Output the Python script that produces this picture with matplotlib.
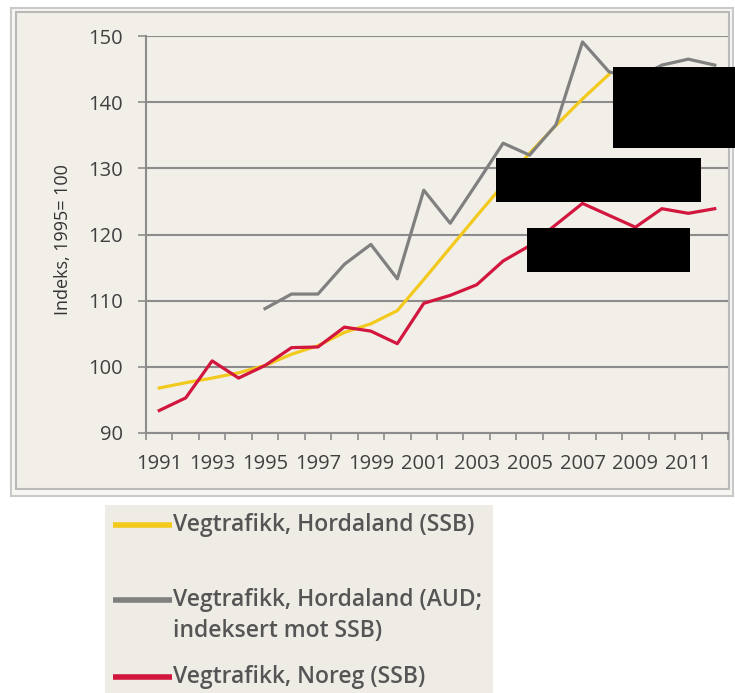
import matplotlib
matplotlib.use("Agg")
import matplotlib.pyplot as plt
from matplotlib.patches import Rectangle
from matplotlib.lines import Line2D
import numpy as np

# --- data ---
years = list(range(1991, 2013))
hordaland_ssb = [96.8, 97.6, 98.3, 99.1, 100.2, 101.9, 103.2, 105.2, 106.5, 108.5,
                 113.2, 118.0, 122.8, 127.5, 132.3, 136.5, 140.5, 144.2,
                 None, None, None, None]
hordaland_aud = [None, None, None, None, 108.8, 111.0, 111.0, 115.5, 118.5, 113.3,
                 126.7, 121.7, 127.7, 133.8, 132.0, 136.6, 149.1, 144.6,
                 143.5, 145.6, 146.5, 145.6]
noreg_ssb = [93.4, 95.3, 100.9, 98.3, 100.2, 102.9, 103.0, 106.0, 105.4, 103.5,
             109.6, 110.8, 112.4, 116.0, 118.3, 121.5, 124.7, 122.9,
             121.1, 123.9, 123.2, 123.9]

labels = ["Vegtrafikk, Hordaland (SSB)",
          "Vegtrafikk, Hordaland (AUD;\nindeksert mot SSB)",
          "Vegtrafikk, Noreg (SSB)"]
colors = ["#f2c91c", "#808080", "#d2163e"]
y_ticks = [90, 100, 110, 120, 130, 140, 150]
x_ticklabels = [str(y) for y in range(1991, 2012, 2)]

plt.rcParams['font.family'] = ['Open Sans', 'DejaVu Sans']

W, H = 735, 693
fig = plt.figure(figsize=(W / 100, H / 100), dpi=100)
fig.patch.set_facecolor("white")


def box(x0, y0, x1, y1):
    """pixel box (top-left origin) -> figure fraction rect args"""
    return (x0 / W, 1 - y1 / H), (x1 - x0) / W, (y1 - y0) / H


# chart frame (double border)
xy, w, h = box(11, 8, 733, 496)
fig.patches.append(Rectangle(xy, w, h, transform=fig.transFigure, zorder=-5,
                             facecolor="#f7f6f2", edgecolor="#c9c9c9", lw=1.5))
xy, w, h = box(16, 12, 729, 489)
fig.patches.append(Rectangle(xy, w, h, transform=fig.transFigure, zorder=-4,
                             facecolor="#f2efe9", edgecolor="#b9b9b9", lw=1.5))

# plot area
ax = fig.add_axes([146 / W, 1 - 433 / H, 582 / W, 397 / H])
ax.patch.set_alpha(0)

series = [hordaland_ssb, hordaland_aud, noreg_ssb]
for vals, c in zip(series, colors):
    v = np.array([np.nan if x is None else x for x in vals], dtype=float)
    ax.plot(years, v, color=c, lw=2.3, solid_joinstyle="round", zorder=3)

ax.set_xlim(1990.5, 2012.5)
ax.set_ylim(90, 150)
ax.set_yticks(y_ticks)
ax.yaxis.grid(True, color="#8c8c8c", lw=1.5)
ax.set_axisbelow(True)

ax.set_xticks(list(range(1991, 2012, 2)))
ax.set_xticklabels(x_ticklabels)
ax.set_xticks(np.arange(1990.5, 2013, 1), minor=True)
ax.tick_params(axis="x", which="major", length=0, pad=15,
               labelsize=14.5, labelcolor="#404040")
ax.tick_params(axis="x", which="minor", length=5, color="#8c8c8c", width=1.2)
ax.tick_params(axis="y", length=6, color="#8c8c8c", width=1.2,
               labelsize=14.5, labelcolor="#404040", pad=10.5)

for s in ["top", "right"]:
    ax.spines[s].set_visible(False)
for s in ["left", "bottom"]:
    ax.spines[s].set_color("#8c8c8c")
    ax.spines[s].set_linewidth(1.5)

fig.text(63 / W, 1 - 240 / H, "Indeks, 1995= 100", rotation=90,
         ha="center", va="center", fontsize=13, color="#333333")

# redaction boxes present in the reference
for (x0, y0, x1, y1) in [(613, 67, 735, 148), (496, 158, 701, 202), (527, 228, 690, 272)]:
    xy, w, h = box(x0, y0, x1, y1)
    fig.patches.append(Rectangle(xy, w, h, transform=fig.transFigure,
                                 facecolor="black", edgecolor="none", zorder=10))

# legend below the chart
xy, w, h = box(105, 505, 493, 693)
fig.patches.append(Rectangle(xy, w, h, transform=fig.transFigure, zorder=-5,
                             facecolor="#efece6", edgecolor="none"))
legend_y = [525, 600, 677]
for lab, c, yy in zip(labels, colors, legend_y):
    fy = 1 - yy / H
    fig.lines.append(Line2D([113 / W, 172 / W], [fy, fy], transform=fig.transFigure,
                            color=c, lw=4, solid_capstyle="butt"))
    fig.text(173 / W, fy, lab, ha="left", va="top" if "\n" in lab else "center",
             fontsize=16.5, fontweight="semibold", color="#555555", linespacing=1.4,
             transform=fig.transFigure)

fig.texts[-2].set_position((173 / W, 1 - 588 / H))

fig.savefig("out.png", dpi=100)
